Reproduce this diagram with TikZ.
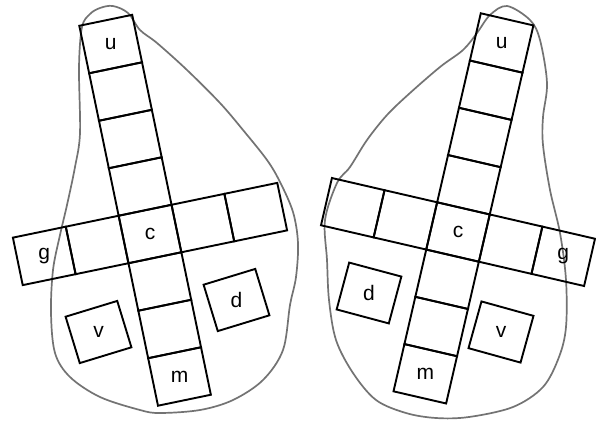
\documentclass[tikz,border=0pt]{standalone}
\usepackage{fontspec}
\setmainfont{Liberation Sans}
\newcommand\uplbl[2]{\rotatebox{#1}{#2}}
\begin{document}
\begin{tikzpicture}[x=1pt,y=-1pt,
  cell/.style={draw=black, line width=1.9pt, minimum width=54pt, minimum height=48.5pt, inner sep=0pt, font=\fontsize{21}{21}\selectfont},
  tscell/.style={cell, transform shape},
  outline/.style={draw=black!55, line width=1.7pt}]
\useasboundingbox (0,0) rectangle (596,421);
\fill[white] (0,0) rectangle (596,421);

% ---------- left figure ----------
\draw[outline] plot[smooth cycle, tension=0.55] coordinates {
 (113,6) (128,13) (140,30) (157,43) (187,70) (220,103) (243,130) (267,160)
 (280,182) (293,212) (298,243) (296,277) (290,305) (283,350) (263,380)
 (233,400) (200,410) (160,413) (140,410) (100,397) (70,377) (55,353)
 (51,313) (53,270) (60,235) (67,205) (75,167) (80,133) (79,67) (82,27)
 (90,14) (100,8)};

\begin{scope}[shift={(150,234)}, rotate=11.7]
  \node[tscell] (Lu)  at (0,-4*48.5) {\uplbl{-11.7}{u}};
  \node[tscell] (Lu1) at (0,-3*48.5) {};
  \node[tscell] (Lu2) at (0,-2*48.5) {};
  \node[tscell] (Lu3) at (0,-1*48.5) {};
  \node[tscell] (Lc)  at (0,0) {\uplbl{-11.7}{c}};
  \node[tscell] (Lm1) at (0,1*48.5) {};
  \node[tscell] (Lm2) at (0,2*48.5) {};
  \node[tscell] (Lm)  at (0,3*48.5) {\uplbl{-11.7}{m}};
  \node[tscell] (Lg)  at (-2*54,0) {\uplbl{-11.7}{g}};
  \node[tscell] (Lg1) at (-1*54,0) {};
  \node[tscell] (Lr1) at (1*54,0) {};
  \node[tscell] (Lr2) at (2*54,0) {};
\end{scope}
\node[cell, rotate=17] (Lv) at (98.5,332) {\uplbl{-17}{v}};
\node[cell, rotate=17] (Ld) at (236.5,300) {\uplbl{-17}{d}};

% ---------- right figure ----------
\draw[outline] plot[smooth cycle, tension=0.55] coordinates {
 (507,6) (530,20) (540,40) (547,83) (543,117) (543,145) (550,190) (560,233)
 (566,280) (566,327) (559,357) (543,387) (513,407) (469,417) (436,418)
 (406,413) (376,400) (353,373) (336,340) (329,300) (327,260) (325,220)
 (337,183) (350,167) (367,140) (387,115) (410,93) (440,67) (463,50)
 (477,33) (490,15)};

\begin{scope}[shift={(458,232)}, rotate=-13]
  \node[tscell] (Ru)  at (0,-4*48.5) {\uplbl{13}{u}};
  \node[tscell] (Ru1) at (0,-3*48.5) {};
  \node[tscell] (Ru2) at (0,-2*48.5) {};
  \node[tscell] (Ru3) at (0,-1*48.5) {};
  \node[tscell] (Rc)  at (0,0) {\uplbl{13}{c}};
  \node[tscell] (Rm1) at (0,1*48.5) {};
  \node[tscell] (Rm2) at (0,2*48.5) {};
  \node[tscell] (Rm)  at (0,3*48.5) {\uplbl{13}{m}};
  \node[tscell] (Rl2) at (-2*54,0) {};
  \node[tscell] (Rl1) at (-1*54,0) {};
  \node[tscell] (Rg1) at (1*54,0) {};
  \node[tscell] (Rg)  at (2*54,0) {\uplbl{13}{g}};
\end{scope}
\node[cell, rotate=-15] (Rd) at (369,293) {\uplbl{15}{d}};
\node[cell, rotate=-15.5] (Rv) at (501,332) {\uplbl{15.5}{v}};
\end{tikzpicture}
\end{document}
